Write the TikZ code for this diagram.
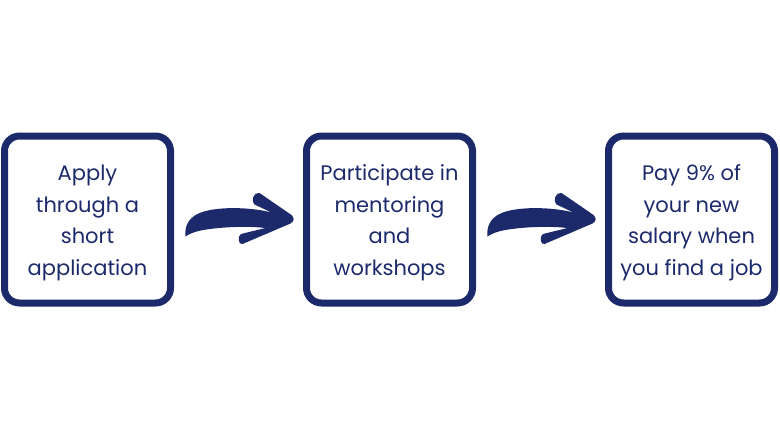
\documentclass[tikz,border=0pt]{standalone}
\usepackage{fontspec}
\setmainfont{Poppins}
\usepackage{xcolor}
\usepackage{tikz}
\usetikzlibrary{positioning,calc}

\definecolor{navy}{HTML}{1C2A6B}

\tikzset{
  stepbox/.style={draw=navy, line width=7pt, rounded corners=15pt,
                  minimum width=166pt, minimum height=167pt, inner sep=0pt,
                  align=center, text=navy, font=\fontsize{21}{31.5}\selectfont},
  brusharrow/.pic={
    \fill[navy] (-53,17)
      .. controls (-54,8) and (-51,-1) .. (-40,-6)
      .. controls (-25,-13) and (10,-13) .. (33,-7)
      -- (16,-15)
      .. controls (12,-18) and (15,-28) .. (21,-26.5)
      -- (53,-4.5)
      .. controls (56,-2) and (56,2) .. (52,4)
      -- (4,24.5)
      .. controls (-0.5,26) and (-1,16) .. (2.5,14.5)
      -- (27,8.5)
      .. controls (5,6) and (-25,8) .. (-40,11.5)
      .. controls (-46,13) and (-50,15) .. (-53,17)
      -- cycle;
  }
}

\begin{document}
\begin{tikzpicture}[x=1pt, y=-1pt]
\useasboundingbox (0,0) rectangle (780,439);

\node[stepbox] (apply)  at (87.5,219.5) {\strut Apply\\through a\\short\\application};
\node[stepbox] (mentor) [right=129pt of apply]  {\strut Participate in\\mentoring\\and\\workshops};
\node[stepbox] (pay)    [right=129pt of mentor] {\strut Pay 9\% of\\your new\\salary when\\you find a job};

% arrows between the steps
\pic at ($(apply.east)!.5!(mentor.west)$) {brusharrow};
\pic at ($(mentor.east)!.5!(pay.west)$)   {brusharrow};
\end{tikzpicture}
\end{document}
